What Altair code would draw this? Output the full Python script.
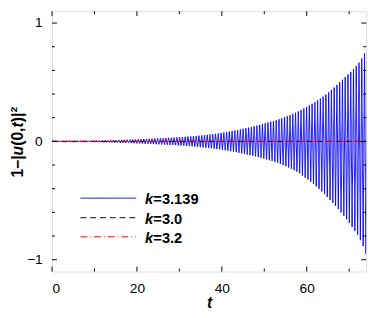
import altair as alt
import pandas as pd

# ---- data ----
period = 0.65  # oscillation period of the k=3.139 curve (t units)

upper = [0.003,0.003,0.003,0.003,0.004,0.004,0.004,0.004,0.005,0.005,
         0.005,0.005,0.006,0.006,0.006,0.007,0.007,0.007,0.008,0.008,
         0.009,0.009,0.010,0.011,0.012,0.012,0.013,0.014,0.015,0.016,
         0.017,0.018,0.019,0.020,0.021,0.022,0.023,0.024,0.025,0.026,
         0.027,0.028,0.030,0.031,0.032,0.034,0.035,0.037,0.038,0.040,
         0.042,0.044,0.046,0.048,0.050,0.053,0.055,0.058,0.061,0.064,
         0.067,0.071,0.075,0.079,0.083,0.087,0.091,0.096,0.101,0.106,
         0.111,0.116,0.121,0.127,0.133,0.139,0.145,0.152,0.159,0.166,
         0.170,0.178,0.186,0.195,0.204,0.213,0.222,0.232,0.242,0.253,
         0.265,0.278,0.291,0.304,0.318,0.332,0.347,0.362,0.378,0.395,
         0.415,0.435,0.455,0.477,0.499,0.521,0.543,0.565,0.587,0.609,
         0.635,0.665,0.700,0.745,0.780]

lower = [0.003,0.003,0.003,0.003,0.004,0.004,0.004,0.004,0.005,0.005,
         0.005,0.005,0.006,0.006,0.006,0.007,0.007,0.007,0.008,0.008,
         0.009,0.009,0.010,0.011,0.012,0.012,0.013,0.014,0.015,0.016,
         0.017,0.018,0.019,0.020,0.021,0.022,0.023,0.024,0.025,0.026,
         0.027,0.028,0.030,0.031,0.032,0.034,0.035,0.037,0.038,0.040,
         0.042,0.044,0.046,0.048,0.050,0.053,0.055,0.058,0.061,0.064,
         0.067,0.071,0.075,0.079,0.083,0.087,0.091,0.096,0.101,0.106,
         0.111,0.116,0.121,0.127,0.133,0.139,0.145,0.152,0.159,0.166,
         0.172,0.181,0.190,0.200,0.210,0.221,0.232,0.244,0.256,0.269,
         0.290,0.306,0.323,0.341,0.360,0.380,0.401,0.423,0.446,0.470,
         0.494,0.519,0.545,0.572,0.600,0.629,0.659,0.690,0.722,0.755,
         0.789,0.835,0.885,0.950,1.000]

flat_t = [0, 74]
flat_k30 = [0.0, 0.0]
flat_k32 = [0.0, 0.0]

series_names = ["k=3.139", "k=3.0", "k=3.2"]
legend_values = ["=3.139", "=3.0", "=3.2"]
x_major = [0, 20, 40, 60]
x_minor = [10, 30, 50, 70]
y_major = [-1, 0, 1]
y_minor = [-0.8, -0.6, -0.4, -0.2, 0.2, 0.4, 0.6, 0.8]

# ---- styles ----
colors = ["#0000ff", "#000000", "#ff0000"]
dashes = [[1, 0], [6, 4], [7, 3, 1, 3]]
W, H = 321, 266
FONT = "Liberation Sans"

# ---- build tables ----
rows = [{"t": 0.0, "v": 0.0, "s": series_names[0]}]
for i, (u, l) in enumerate(zip(upper, lower)):
    rows.append({"t": period * i + period * 0.25, "v": u, "s": series_names[0]})
    rows.append({"t": period * i + period * 0.75, "v": -l, "s": series_names[0]})
blue_df = pd.DataFrame(rows)

flat_df = pd.DataFrame(
    [{"t": t, "v": v, "s": series_names[1]} for t, v in zip(flat_t, flat_k30)]
    + [{"t": t, "v": v, "s": series_names[2]} for t, v in zip(flat_t, flat_k32)]
)

xscale = alt.Scale(domain=[0, 74], nice=False, zero=False)
yscale = alt.Scale(domain=[-1.1, 1.1], nice=False, zero=False)

color = alt.Color("s:N", scale=alt.Scale(domain=series_names, range=colors), legend=None)
dash = alt.StrokeDash("s:N", scale=alt.Scale(domain=series_names, range=dashes), legend=None)

x_axis = alt.Axis(values=x_major, format="d", domain=False, ticks=False, grid=False,
                  labelFont=FONT, labelFontSize=14, labelColor="black", labelPadding=10,
                  title="t", titleFont=FONT, titleFontSize=16, titleFontStyle="italic",
                  titleFontWeight="bold", titleColor="black", titlePadding=0)
y_axis = alt.Axis(values=y_major, format="d", domain=False, ticks=False, grid=False,
                  labelFont=FONT, labelFontSize=14, labelColor="black", labelPadding=10,
                  title=None)

blue = alt.Chart(blue_df).mark_line(strokeWidth=1, clip=True).encode(
    x=alt.X("t:Q", scale=xscale, axis=x_axis, title="t"),
    y=alt.Y("v:Q", scale=yscale, axis=y_axis, title=None),
    color=color, strokeDash=dash, order="t:Q",
)
flat = alt.Chart(flat_df).mark_line(strokeWidth=1, clip=True).encode(
    x=alt.X("t:Q", scale=xscale, title="t"),
    y=alt.Y("v:Q", scale=yscale, title=None),
    color=color, strokeDash=dash,
)

def xticks(vals, length):
    d = pd.DataFrame({"x": vals})
    b = alt.Chart(d).mark_rule(color="black", strokeWidth=1).encode(
        x=alt.X("x:Q", scale=xscale, title="t"), y=alt.value(H), y2=alt.value(H - length))
    t = alt.Chart(d).mark_rule(color="black", strokeWidth=1).encode(
        x=alt.X("x:Q", scale=xscale, title="t"), y=alt.value(0), y2=alt.value(length))
    return [b, t]

def yticks(vals, length):
    d = pd.DataFrame({"y": vals})
    l = alt.Chart(d).mark_rule(color="black", strokeWidth=1).encode(
        y=alt.Y("y:Q", scale=yscale, title=None), x=alt.value(0), x2=alt.value(length))
    r = alt.Chart(d).mark_rule(color="black", strokeWidth=1).encode(
        y=alt.Y("y:Q", scale=yscale, title=None), x=alt.value(W), x2=alt.value(W - length))
    return [l, r]

# ---- legend drawn by hand (italic k + bold value) ----
legend_layers = []
row_y = [191, 211, 230.5]
for name, val, c, d, yy in zip(series_names, legend_values, colors, dashes, row_y):
    ld = pd.DataFrame({"s": [name], "k": ["k"], "val": [val]})
    legend_layers.append(alt.Chart(ld).mark_rule(color=c, strokeWidth=1, strokeDash=d).encode(
        x=alt.value(29), x2=alt.value(86), y=alt.value(yy)))
    legend_layers.append(alt.Chart(ld).mark_text(
        font=FONT, fontSize=15, fontWeight="bold", fontStyle="italic", align="left",
        baseline="middle", color="black").encode(
        text="k:N", x=alt.value(95), y=alt.value(yy + 1)))
    legend_layers.append(alt.Chart(ld).mark_text(
        font=FONT, fontSize=15, fontWeight="bold", align="left",
        baseline="middle", color="black").encode(
        text="val:N", x=alt.value(103.5), y=alt.value(yy + 1)))

# ---- y-axis title, pieces with their own styles, rotated ----
title_parts = [("1−|", "normal", 22.7), ("u", "italic", 9.8), ("(0,", "normal", 18.7),
               ("t", "italic", 5.3), (")|", "normal", 9.8)]
title_layers = []
ypos = 170.0
for txt, style, w in title_parts:
    td = pd.DataFrame({"txt": [txt]})
    title_layers.append(alt.Chart(td).mark_text(
        font=FONT, fontSize=16, fontWeight="bold", fontStyle=style, angle=270, align="left",
        baseline="alphabetic", color="black").encode(
        text="txt:N", x=alt.value(-30), y=alt.value(ypos)))
    ypos -= w
sup = pd.DataFrame({"txt": ["2"]})
title_layers.append(alt.Chart(sup).mark_text(
    font=FONT, fontSize=10, fontWeight="bold", angle=270, align="left",
    baseline="alphabetic", color="black").encode(
    text="txt:N", x=alt.value(-36), y=alt.value(ypos - 0.5)))

layers = ([blue, flat] + xticks(x_major, 5) + xticks(x_minor, 3) + yticks(y_major, 5)
          + yticks(y_minor, 3) + legend_layers + title_layers)

chart = alt.layer(*layers).properties(
    width=W, height=H,
    autosize=alt.AutoSizeParams(type="none"),
    padding={"left": 45, "top": 0, "right": 8, "bottom": 36},
).configure_view(stroke="black", strokeWidth=1).configure(background="white")

chart.save("out.html", embed_options={"renderer": "svg", "actions": False})
